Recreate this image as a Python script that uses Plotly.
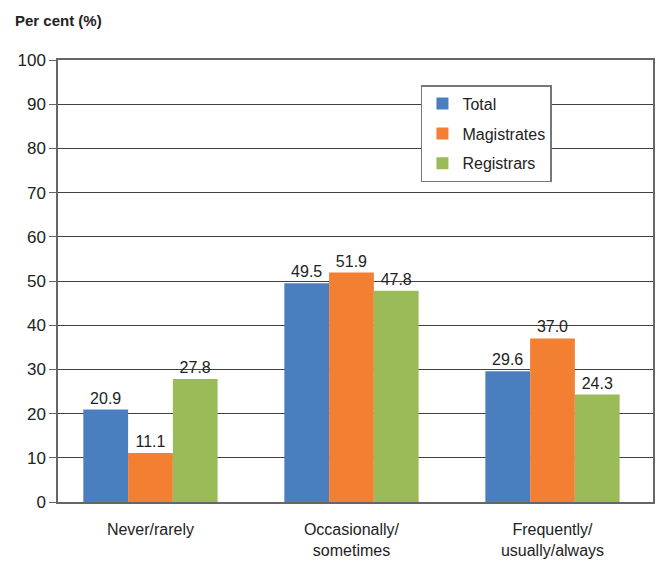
import plotly.graph_objects as go

# Categorias y valores (%)
categorias = ["Never/rarely", "Occasionally/<br>sometimes", "Frequently/<br>usually/always"]
total = [20.9, 49.5, 29.6]
magistrates = [11.1, 51.9, 37.0]
registrars = [27.8, 47.8, 24.3]

series = [
    ("Total", total, "#4A7EBF"),
    ("Magistrates", magistrates, "#F37F32"),
    ("Registrars", registrars, "#9BBB59"),
]

fuente = "Liberation Sans, Arial, sans-serif"

fig = go.Figure()
for i, (nombre, valores, color) in enumerate(series):
    fig.add_trace(go.Bar(
        x=categorias,
        y=valores,
        name=nombre,
        legendgroup=str(i),
        marker=dict(color=color, line=dict(width=0)),
        text=[f"{v:.1f}" for v in valores],
        textposition="outside",
        textfont=dict(size=16, color="#222222"),
        cliponaxis=False,
    ))

# La pagina tiene 8px de margen en el body, asi que la figura es algo menor
fig.update_layout(
    width=656,
    height=560,
    margin=dict(l=49, r=9, t=52, b=66),
    paper_bgcolor="white",
    plot_bgcolor="white",
    font=dict(family=fuente, size=16, color="#222222"),
    barmode="group",
    bargap=0.332,
    bargroupgap=0,
    showlegend=True,
    legend=dict(
        x=0.610, y=0.943, xanchor="left", yanchor="top",
        bgcolor="white", bordercolor="#777777", borderwidth=1.5,
        font=dict(size=16),
        traceorder="grouped",
        tracegroupgap=6,
        itemwidth=30,
    ),
)

fig.update_yaxes(
    range=[0, 100],
    tickvals=list(range(0, 101, 10)),
    showgrid=True, gridcolor="#404040", gridwidth=1,
    showline=True, linecolor="#666666", linewidth=1.5, mirror=True,
    ticks="outside", ticklen=7, tickcolor="#666666",
    zeroline=False,
    tickfont=dict(size=17),
)
fig.update_xaxes(
    range=[-0.46, 2.50],
    showline=True, linecolor="#666666", linewidth=1.5, mirror=True,
    ticks="", tickfont=dict(size=16),
    ticklabelstandoff=12,
)

# Titulo del eje Y
fig.add_annotation(
    text="<b>Per cent (%)</b>", xref="paper", yref="paper",
    x=-0.075, y=1.09, xanchor="left", yanchor="middle",
    showarrow=False, font=dict(size=15),
)

fig.write_html("out.html")
